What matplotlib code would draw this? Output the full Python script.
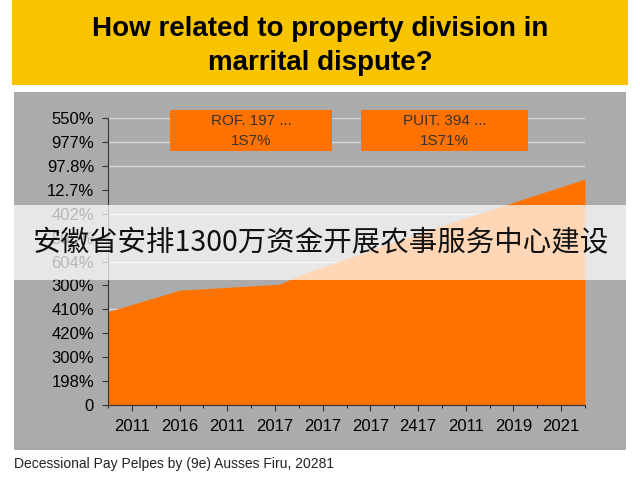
import matplotlib.pyplot as plt
from matplotlib.patches import Rectangle

plt.rcParams['font.family'] = ['Noto Sans CJK SC', 'DejaVu Sans']

y_labels = ["0", "198%", "300%", "420%", "410%", "300%", "604%", "500%",
            "402%", "12.7%", "97.8%", "977%", "550%"]
x_labels = ["2011", "2016", "2011", "2017", "2017", "2017", "2417", "2011", "2019", "2021"]
area_x = [-0.5, 1.0, 3.1, 3.6, 6.5, 9.5]
area_y = [3.9, 4.8, 5.05, 5.5, 7.5, 9.45]
boxes = [("ROF. 197 ...\n1S7%", 0.8, 4.2), ("PUIT. 394 ...\n1S71%", 4.8, 8.3)]

fig = plt.figure(figsize=(6.4, 4.8), dpi=100)
fig.patches.append(Rectangle((12/640, 1-85/480), 616/640, 85/480, transform=fig.transFigure,
                             facecolor='#F8C400', edgecolor='none', zorder=-2))
fig.patches.append(Rectangle((14/640, 1-450/480), 612/640, 358/480, transform=fig.transFigure,
                             facecolor='#ABABAB', edgecolor='none', zorder=-2))
fig.text(0.5, 1-46/480, "How related to property division in\nmarrital dispute?", ha='center',
         va='center', fontsize=20, fontweight='bold', family='Liberation Sans', linespacing=1.35)

ax = fig.add_axes([108/640, 1-405/480, 477/640, 287/480])
ax.set_facecolor('none')
ax.set_xlim(-0.5, 9.5)
ax.set_ylim(0, 12)
for g in [2, 4, 6, 8, 10, 11, 12]:
    ax.axhline(g, color='#D8D8D8', lw=1, zorder=0)
ax.fill_between(area_x, area_y, color='#FF7200', lw=0, zorder=2)
ax.set_yticks(range(13))
ax.set_yticklabels(y_labels, fontsize=12, family='Liberation Sans')
ax.set_xticks(range(10))
ax.set_xticklabels(x_labels, fontsize=12, family='Liberation Sans')
ax.set_xticks([i / 2 - 0.5 for i in range(21)], minor=True)
for s in ['top', 'right']:
    ax.spines[s].set_visible(False)
for s in ['left', 'bottom']:
    ax.spines[s].set_color('#333333')
ax.tick_params(length=4, color='#333333', pad=6)

for txt, x0, x1 in boxes:
    ax.add_patch(Rectangle((x0, 10.6), x1 - x0, 1.75, facecolor='#FF7200', edgecolor='none',
                           zorder=3, clip_on=False))
    ax.text((x0 + x1) / 2, 11.45, txt, ha='center', va='center', fontsize=11,
            color='#333333', family='Liberation Sans', zorder=4, linespacing=1.6)

fig.patches.append(Rectangle((14/640, 1-280/480), 612/640, 75/480, transform=fig.transFigure,
                             facecolor='white', alpha=0.72, edgecolor='none', zorder=5))
fig.text(0.5, 1-243/480, "安徽省安排1300万资金开展农事服务中心建设", ha='center', va='center',
         fontsize=20.5, color='#111111', zorder=6)
fig.text(14/640, 1-464/480, "Decessional Pay Pelpes by (9e) Ausses Firu, 20281", fontsize=10,
         family='Liberation Sans', va='center', color='#222222')

plt.savefig("out.png", dpi=100)
